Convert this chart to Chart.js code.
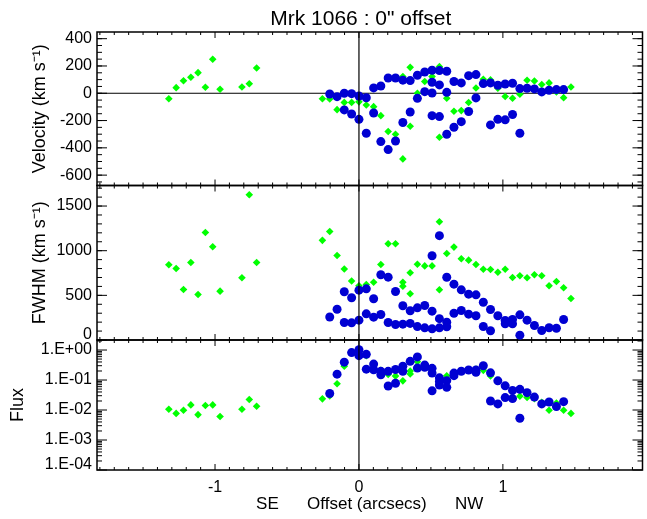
<!DOCTYPE html>
<html>
<head>
<meta charset="utf-8">
<script src="https://cdn.jsdelivr.net/npm/chart.js@4.4.0/dist/chart.umd.min.js"></script>
<style>
  html, body { margin: 0; padding: 0; background: #fff; }
</style>
</head>
<body>
<canvas id="mrk" width="647" height="519"></canvas>
<script>
// tick labels
const xTicks = [-1, 0, 1];
const velTicks = [400, 200, 0, -200, -400, -600];
const fwhmTicks = [1500, 1000, 500, 0];
const fluxTicks = [1, 0.1, 0.01, 0.001, 0.0001];

// [offset (arcsec), value] pairs
const velGreen = [
  [-1.321, -40], [-1.270, 41], [-1.219, 92], [-1.168, 117], [-1.118, 151], [-1.067, 44],
  [-1.016, 249], [-0.965, 29], [-0.813, 46], [-0.762, 70], [-0.711, 185],
  [-0.254, -40], [-0.203, -42], [-0.152, -120], [-0.102, -67], [-0.051, -67], [0, -63],
  [0.051, -86], [0.102, -98], [0.152, -164], [0.203, -280], [0.254, -300], [0.305, 122],
  [0.305, -481], [0.356, 190], [0.356, -242], [0.406, 0], [0.457, 86], [0.508, 122],
  [0.559, 195], [0.559, -322], [0.610, -37], [0.660, -132], [0.711, -127], [0.762, -68],
  [0.813, 39], [0.864, 103], [0.914, 98], [0.965, 37], [1.016, -24], [1.067, -37],
  [1.118, -7], [1.168, 95], [1.219, 90], [1.270, 64], [1.321, 76], [1.372, 10],
  [1.422, -32], [1.473, 46]
];
const velBlue = [
  [-0.203, -5], [-0.152, -25], [-0.102, 0], [-0.102, -122], [-0.051, -3], [-0.051, -152],
  [0, -20], [0, -191], [0.051, -33], [0.051, -293], [0.102, 39], [0.102, -145],
  [0.152, 53], [0.152, -354], [0.203, 112], [0.203, -413], [0.254, 112], [0.254, -350],
  [0.305, 96], [0.305, -214], [0.356, 93], [0.356, -137], [0.406, 132], [0.406, -37],
  [0.457, 156], [0.457, 12], [0.508, 169], [0.508, 81], [0.508, 2], [0.508, -164],
  [0.559, 166], [0.559, 61], [0.559, -171], [0.610, 161], [0.610, 7], [0.610, -300],
  [0.660, 86], [0.660, -249], [0.711, 76], [0.711, -208], [0.762, 129], [0.762, -134],
  [0.813, 137], [0.813, -34], [0.864, 71], [0.914, 76], [0.914, -232], [0.965, 59],
  [0.965, -191], [1.016, 68], [1.016, -195], [1.067, 73], [1.067, -156], [1.118, 34],
  [1.118, -293], [1.168, 37], [1.219, 32], [1.270, 10], [1.321, 22], [1.372, 27], [1.422, 27]
];
const fwhmGreen = [
  [-1.321, 842], [-1.270, 801], [-1.219, 566], [-1.168, 868], [-1.118, 510], [-1.067, 1204],
  [-1.016, 1044], [-0.965, 547], [-0.813, 697], [-0.762, 1626], [-0.711, 868],
  [-0.254, 1116], [-0.203, 1215], [-0.152, 946], [-0.102, 795], [-0.051, 661], [0, 608],
  [0.051, 622], [0.102, 647], [0.152, 846], [0.203, 1077], [0.254, 1077], [0.305, 647],
  [0.305, 603], [0.356, 753], [0.356, 518], [0.406, 849], [0.457, 830], [0.508, 830],
  [0.559, 1324], [0.559, 563], [0.610, 968], [0.660, 1040], [0.711, 910], [0.762, 894],
  [0.813, 846], [0.864, 793], [0.914, 790], [0.965, 759], [1.016, 793], [1.067, 700],
  [1.118, 719], [1.168, 697], [1.219, 730], [1.270, 719], [1.321, 607], [1.372, 655],
  [1.422, 585], [1.473, 465]
];
const fwhmBlue = [
  [-0.203, 258], [-0.152, 344], [-0.102, 540], [-0.102, 196], [-0.051, 473], [-0.051, 192],
  [0, 558], [0, 222], [0.051, 573], [0.051, 293], [0.102, 462], [0.102, 256],
  [0.152, 730], [0.152, 286], [0.203, 704], [0.203, 196], [0.254, 543], [0.254, 174],
  [0.305, 383], [0.305, 177], [0.356, 328], [0.356, 186], [0.406, 360], [0.406, 150],
  [0.457, 386], [0.457, 136], [0.508, 943], [0.508, 323], [0.508, 125], [0.559, 1168],
  [0.559, 239], [0.559, 136], [0.610, 702], [0.610, 200], [0.610, 148], [0.660, 625],
  [0.660, 300], [0.711, 562], [0.711, 330], [0.762, 513], [0.762, 289], [0.813, 506],
  [0.813, 271], [0.864, 423], [0.864, 151], [0.914, 342], [0.914, 103], [0.965, 271],
  [1.016, 218], [1.016, 181], [1.067, 230], [1.067, 181], [1.118, 282], [1.118, 54],
  [1.168, 222], [1.219, 162], [1.270, 106], [1.321, 137], [1.372, 132], [1.422, 230]
];
const fluxGreen = [
  [-1.321, 0.0106], [-1.270, 0.0077], [-1.219, 0.0098], [-1.168, 0.0148], [-1.118, 0.0070],
  [-1.067, 0.0141], [-1.016, 0.0148], [-0.965, 0.0061], [-0.813, 0.0106], [-0.762, 0.0223],
  [-0.711, 0.0133],
  [-0.254, 0.0236], [-0.203, 0.0297], [-0.152, 0.075], [-0.102, 0.29], [-0.051, 0.85],
  [0, 0.85], [0.051, 0.65], [0.102, 0.35], [0.152, 0.21], [0.203, 0.153], [0.254, 0.135],
  [0.305, 0.094], [0.356, 0.2], [0.356, 0.16], [0.406, 0.41], [0.457, 0.32], [0.508, 0.22],
  [0.559, 0.12], [0.610, 0.138], [0.660, 0.16], [0.711, 0.2], [0.762, 0.21], [0.813, 0.23],
  [0.864, 0.21], [0.914, 0.136], [0.965, 0.09], [1.016, 0.065], [1.067, 0.045], [1.118, 0.029],
  [1.168, 0.026], [1.219, 0.024], [1.270, 0.018], [1.321, 0.0098], [1.372, 0.017],
  [1.422, 0.0098], [1.473, 0.0077]
];
const fluxBlue = [
  [-0.203, 0.0355], [-0.152, 0.157], [-0.102, 0.395], [-0.051, 0.82], [0, 1.02], [0, 0.65],
  [0.051, 0.72], [0.051, 0.23], [0.102, 0.34], [0.102, 0.22], [0.152, 0.195], [0.152, 0.15],
  [0.203, 0.195], [0.203, 0.063], [0.254, 0.225], [0.254, 0.078], [0.305, 0.29], [0.305, 0.195],
  [0.356, 0.42], [0.406, 0.59], [0.406, 0.25], [0.457, 0.315], [0.457, 0.265], [0.508, 0.245],
  [0.508, 0.17], [0.508, 0.0435], [0.559, 0.118], [0.559, 0.09], [0.559, 0.068], [0.610, 0.095],
  [0.610, 0.057], [0.660, 0.17], [0.660, 0.14], [0.711, 0.196], [0.762, 0.215], [0.813, 0.215],
  [0.813, 0.18], [0.864, 0.30], [0.914, 0.174], [0.914, 0.020], [0.965, 0.094], [0.965, 0.016],
  [1.016, 0.064], [1.016, 0.026], [1.067, 0.045], [1.067, 0.024], [1.118, 0.049], [1.118, 0.0053],
  [1.168, 0.038], [1.219, 0.027], [1.270, 0.016], [1.321, 0.0185], [1.372, 0.013], [1.422, 0.019]
];

const FONT = '"Liberation Sans", Arial, Helvetica, sans-serif';
const BLUE = 'rgb(0,0,210)';
const GREEN = 'rgb(0,255,0)';
const panels = ['y', 'yFwhm', 'yFlux'];
const minorStep = { y: 50, yFwhm: 100 };

Chart.defaults.color = '#000';
Chart.defaults.font.family = FONT;

const toXY = arr => arr.map(p => ({ x: p[0], y: p[1] }));

function blueSet(arr, axis) {
  return { data: toXY(arr), yAxisID: axis, order: 0, pointStyle: 'circle', pointRadius: 4.5,
    backgroundColor: BLUE, borderWidth: 0, pointHoverRadius: 4.5 };
}
function greenSet(arr, axis) {
  return { data: toXY(arr), yAxisID: axis, order: 1, pointStyle: 'rectRot', pointRadius: 3.8,
    backgroundColor: GREEN, borderWidth: 0, pointHoverRadius: 3.8 };
}

function minorValues(s) {
  const out = [];
  if (s.type === 'logarithmic') {
    for (let e = -4; e <= 0; e++) {
      for (let m = 2; m <= 9; m++) {
        const v = m * Math.pow(10, e);
        if (v < s.max) out.push(v);
      }
    }
  } else {
    const st = minorStep[s.id];
    for (let v = Math.ceil(s.min / st) * st; v <= s.max; v += st) out.push(v);
  }
  return out;
}

// IDL style frame: inward ticks on all four sides of each panel
const idlAxes = {
  id: 'idlAxes',
  beforeDraw(chart) {
    // labels sitting on a panel's bottom edge are lifted like IDL does
    ['yFwhm', 'yFlux'].forEach(id => {
      const s = chart.scales[id];
      s.getLabelItems().forEach((it, i) => {
        if (!it._lifted && s.ticks[i] && s.ticks[i].value === s.min) {
          it.options.translation[1] -= 5;
          it._lifted = true;
        }
      });
    });
  },
  beforeDatasetsDraw(chart) {
    const { ctx, chartArea: a, scales } = chart;
    const xs = scales.x;
    ctx.save();
    ctx.strokeStyle = '#000';
    panels.forEach(id => {
      const s = scales[id];
      ctx.lineWidth = 1;
      ctx.beginPath();
      s.ticks.forEach(t => {
        const y = s.getPixelForValue(t.value);
        ctx.moveTo(a.left, y); ctx.lineTo(a.left + 10, y);
        ctx.moveTo(a.right, y); ctx.lineTo(a.right - 10, y);
      });
      minorValues(s).forEach(v => {
        const y = s.getPixelForValue(v);
        ctx.moveTo(a.left, y); ctx.lineTo(a.left + 5, y);
        ctx.moveTo(a.right, y); ctx.lineTo(a.right - 5, y);
      });
      for (let i = -18; i <= 19; i++) {
        const px = xs.getPixelForValue(i / 10);
        const len = i % 10 === 0 ? 6 : 3;
        ctx.moveTo(px, s.top); ctx.lineTo(px, s.top + len);
        ctx.moveTo(px, s.bottom); ctx.lineTo(px, s.bottom - len);
      }
      ctx.stroke();
      ctx.lineWidth = 1.5;
      ctx.strokeRect(a.left, s.top, a.right - a.left, s.bottom - s.top);
    });
    const v0 = scales.y.getPixelForValue(0);
    ctx.lineWidth = 1;
    ctx.beginPath();
    ctx.moveTo(a.left, v0); ctx.lineTo(a.right, v0);
    ctx.stroke();
    ctx.restore();
  },
  afterDatasetsDraw(chart) {
    const { ctx, chartArea: a, scales } = chart;
    const px = scales.x.getPixelForValue(0);
    ctx.save();
    ctx.strokeStyle = '#000';
    ctx.lineWidth = 1.2;
    ctx.beginPath();
    ctx.moveTo(px, a.top); ctx.lineTo(px, a.bottom);
    ctx.stroke();
    ctx.fillStyle = '#000';
    ctx.font = '21px ' + FONT;
    ctx.textAlign = 'center';
    ctx.textBaseline = 'alphabetic';
    ctx.fillText('Mrk 1066 : 0" offset', (a.left + a.right) / 2 - 9, 25);
    ctx.restore();
  }
};

const tickFont = { size: 16, family: FONT };
const xTitleFont = { size: 17, family: FONT };
const yTitleFont = { size: 18, family: FONT };

function yAxis(opts) {
  return Object.assign({
    position: 'left',
    stack: 'panels',
    grid: { display: false, drawTicks: false },
    border: { display: false },
    afterFit: s => { s.width = 97; }
  }, opts);
}

new Chart(document.getElementById('mrk'), {
  type: 'scatter',
  data: {
    datasets: [
      blueSet(velBlue, 'y'), greenSet(velGreen, 'y'),
      blueSet(fwhmBlue, 'yFwhm'), greenSet(fwhmGreen, 'yFwhm'),
      blueSet(fluxBlue, 'yFlux'), greenSet(fluxGreen, 'yFlux')
    ]
  },
  options: {
    responsive: false,
    animation: false,
    layout: { padding: { top: 32, right: 2, left: 0, bottom: 0 } },
    plugins: { legend: { display: false }, tooltip: { enabled: false }, title: { display: false } },
    scales: {
      x: {
        type: 'linear', position: 'bottom', min: -1.82, max: 1.97,
        grid: { display: false, drawTicks: false },
        border: { display: false },
        afterBuildTicks: s => { s.ticks = xTicks.map(v => ({ value: v })); },
        ticks: { font: tickFont, padding: 8, maxRotation: 0, autoSkip: false, callback: v => String(v) },
        title: { display: true, text: 'SE      Offset (arcsecs)      NW', font: xTitleFont, padding: { top: 0, bottom: 4 } },
        afterFit: s => { s.height = 49; }
      },
      y: yAxis({
        type: 'linear', min: -676, max: 449, weight: 3, stackWeight: 153.5,
        afterBuildTicks: s => { s.ticks = velTicks.map(v => ({ value: v })); },
        ticks: { font: tickFont, padding: 5, autoSkip: false, callback: v => String(v) },
        title: { display: true, text: 'Velocity (km s\u207B\u00B9)', font: yTitleFont, padding: { top: 29, bottom: 0 } }
      }),
      yFwhm: yAxis({
        type: 'linear', min: 0, max: 1730, weight: 2, stackWeight: 154.5,
        afterBuildTicks: s => { s.ticks = fwhmTicks.map(v => ({ value: v })); },
        ticks: { font: tickFont, padding: 5, autoSkip: false, callback: v => String(v) },
        title: { display: true, text: 'FWHM (km s\u207B\u00B9)', font: yTitleFont, padding: { top: 29, bottom: 0 } }
      }),
      yFlux: yAxis({
        type: 'logarithmic', min: 0.0001, max: 2.16, weight: 1, stackWeight: 130,
        afterBuildTicks: s => { s.ticks = fluxTicks.map(v => ({ value: v })); },
        ticks: {
          font: tickFont, padding: 5, autoSkip: false,
          callback: v => {
            const e = Math.round(Math.log10(v));
            return '1.E' + (e < 0 ? '-' : '+') + String(Math.abs(e)).padStart(2, '0');
          }
        },
        title: { display: true, text: 'Flux', font: yTitleFont, padding: { top: 7.5, bottom: 0 } }
      })
    }
  },
  plugins: [idlAxes]
});
</script>
</body>
</html>
